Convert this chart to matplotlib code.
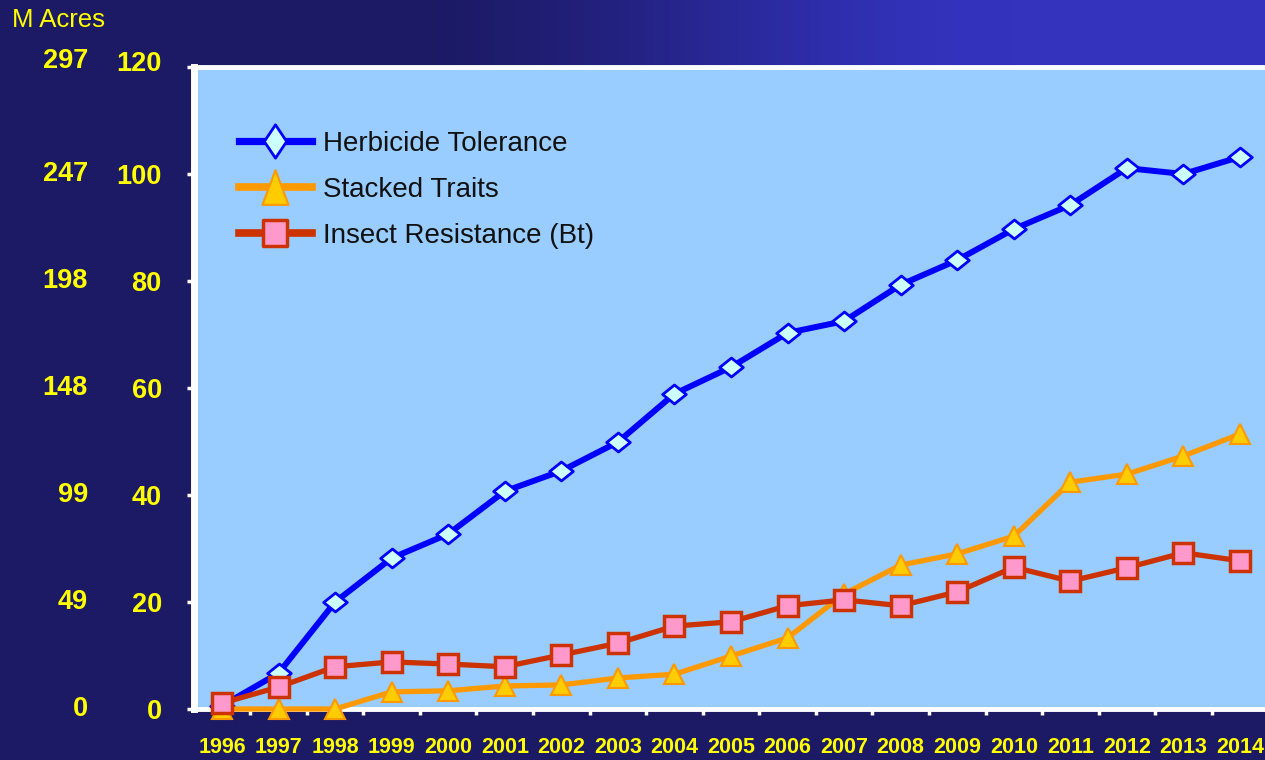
import numpy as np
import matplotlib
matplotlib.use("Agg")
import matplotlib.pyplot as plt
from matplotlib.ticker import FixedLocator
from matplotlib.path import Path
import matplotlib.transforms as mtransforms

plt.rcParams['font.family'] = ['Liberation Sans', 'DejaVu Sans']

years = list(range(1996, 2015))
herbicide_tolerance = [0.6, 6.7, 20.0, 28.2, 32.7, 40.7, 44.5, 49.9, 58.9, 63.9,
                       70.3, 72.5, 79.3, 83.9, 89.7, 94.2, 101.1, 100.0, 103.2]
stacked_traits = [0.0, 0.0, 0.0, 3.2, 3.4, 4.3, 4.5, 5.8, 6.5, 9.9,
                  13.3, 21.5, 26.9, 29.0, 32.3, 42.4, 43.9, 47.3, 51.4]
insect_resistance = [1.1, 4.1, 7.9, 8.8, 8.4, 7.9, 10.1, 12.3, 15.5, 16.3,
                     19.3, 20.4, 19.3, 21.9, 26.5, 23.9, 26.4, 29.2, 27.7]
hectare_ticks = [0, 20, 40, 60, 80, 100, 120]
acre_labels = ["0", "49", "99", "148", "198", "247", "297"]
series_names = ["Herbicide Tolerance", "Stacked Traits", "Insect Resistance (Bt)"]

W, H = 1265, 760
fig = plt.figure(figsize=(W / 100, H / 100), dpi=100)

# background gradient
bg = fig.add_axes([0, 0, 1, 1], zorder=-10)
xs = np.linspace(0, 1, 400)
ys = np.linspace(0, 1, 300)
X, Y = np.meshgrid(xs, ys)
fx = np.clip((X - 0.3) / 0.5, 0, 1)
fx = fx * fx * (3 - 2 * fx)
fy = np.clip((Y - 0.75) / 0.15, 0, 1)
f = (fx * fy)[..., None]
c0 = np.array([28, 26, 100]) / 255
c1 = np.array([51, 51, 190]) / 255
img = c0 + (c1 - c0) * f
bg.imshow(img, origin='lower', extent=[0, 1, 0, 1], aspect='auto')
bg.set_axis_off()

# marker shapes
wide_diamond = Path([(-1, 0), (0, 0.8), (1, 0), (0, -0.8), (-1, 0)],
                    [Path.MOVETO, Path.LINETO, Path.LINETO, Path.LINETO, Path.CLOSEPOLY])
tall_diamond = Path([(-0.67, 0), (0, 1), (0.67, 0), (0, -1), (-0.67, 0)],
                    [Path.MOVETO, Path.LINETO, Path.LINETO, Path.LINETO, Path.CLOSEPOLY])
tall_triangle = Path([(0, 1), (-0.75, -1), (0.75, -1), (0, 1)],
                     [Path.MOVETO, Path.LINETO, Path.LINETO, Path.CLOSEPOLY])
tall_square = Path([(-0.9, -1), (0.9, -1), (0.9, 1), (-0.9, 1), (-0.9, -1)],
                   [Path.MOVETO, Path.LINETO, Path.LINETO, Path.LINETO, Path.CLOSEPOLY])

left_px, right_px = 193.7, 1268.3
bottom_px, top_px = 709, 67
ax = fig.add_axes([left_px / W, (H - bottom_px) / H,
                   (right_px - left_px) / W, (bottom_px - top_px) / H])
ax.set_facecolor('#99CCFF')
ax.set_xlim(1995.5, 2014.5)
ax.set_ylim(0, 120)

ax.plot(years, herbicide_tolerance, color='#0000FF', lw=4.3, marker=wide_diamond, ms=17,
        mfc='#CCFFFF', mec='#0000FF', mew=2, label=series_names[0], zorder=3,
        clip_on=False)
ax.plot(years, stacked_traits, color='#FF9900', lw=3.8, marker='^', ms=14,
        mfc='#FFCC00', mec='#FF9900', mew=1.5, label=series_names[1], zorder=4,
        clip_on=False)
ax.plot(years, insect_resistance, color='#CC3300', lw=3.8, marker='s', ms=14,
        mfc='#FF99CC', mec='#CC3300', mew=2.5, label=series_names[2], zorder=5,
        clip_on=False)

ax.spines['right'].set_visible(False)
for s in ['left', 'bottom', 'top']:
    ax.spines[s].set_color('white')
ax.spines['left'].set_linewidth(5)
ax.spines['bottom'].set_linewidth(3.5)
ax.spines['top'].set_linewidth(3.5)

ax.set_yticks(hectare_ticks)
ax.set_yticklabels([str(v) for v in hectare_ticks])
ax.tick_params(axis='y', direction='out', length=5, width=2.5, color='white',
               labelcolor='#FFFF00', labelsize=19.5, pad=18)
for t in ax.get_yticklabels():
    t.set_fontweight('bold')
# top label sits a little higher in the reference
top_lab = ax.get_yticklabels()[-1]
top_lab.set_transform(top_lab.get_transform() +
                      mtransforms.ScaledTranslation(0, 6 / 100, fig.dpi_scale_trans))

ax.set_xticks(years)
ax.set_xticklabels([str(y) for y in years])
ax.xaxis.set_minor_locator(FixedLocator([y + 0.5 for y in years[:-1]]))
ax.tick_params(axis='x', which='major', length=0, labelcolor='#FFFF00',
               labelsize=15.5, pad=20.5)
ax.tick_params(axis='x', which='minor', direction='out', length=4, width=2.5,
               color='white')
for t in ax.get_xticklabels():
    t.set_fontweight('bold')

trans = mtransforms.blended_transform_factory(fig.transFigure, ax.transData)
for v, lab in zip(hectare_ticks, acre_labels):
    tr = trans
    if v == hectare_ticks[-1]:
        tr = trans + mtransforms.ScaledTranslation(0, 6 / 100, fig.dpi_scale_trans)
    fig.text(88 / W, v, lab, transform=tr, ha='right', va='center',
             color='#FFFF00', fontsize=19.5, fontweight='bold')

fig.text(12 / W, (H - 20) / H, "M Acres", ha='left', va='center',
         color='#FFFF00', fontsize=18.5)

leg = ax.legend(loc='upper left', bbox_to_anchor=(0.042, 0.90), frameon=False,
                fontsize=20, handlelength=2.63, handletextpad=0.4,
                labelspacing=0.72, borderpad=0, borderaxespad=0, numpoints=1)
for t in leg.get_texts():
    t.set_color('#111111')
hs = leg.legend_handles
hs[0].set_marker(tall_diamond); hs[0].set_markersize(24); hs[0].set_linewidth(5.2)
hs[1].set_marker(tall_triangle); hs[1].set_markersize(25); hs[1].set_linewidth(5.5)
hs[2].set_marker(tall_square); hs[2].set_markersize(19); hs[2].set_linewidth(5.5)

fig.savefig('out.png', dpi=100)
